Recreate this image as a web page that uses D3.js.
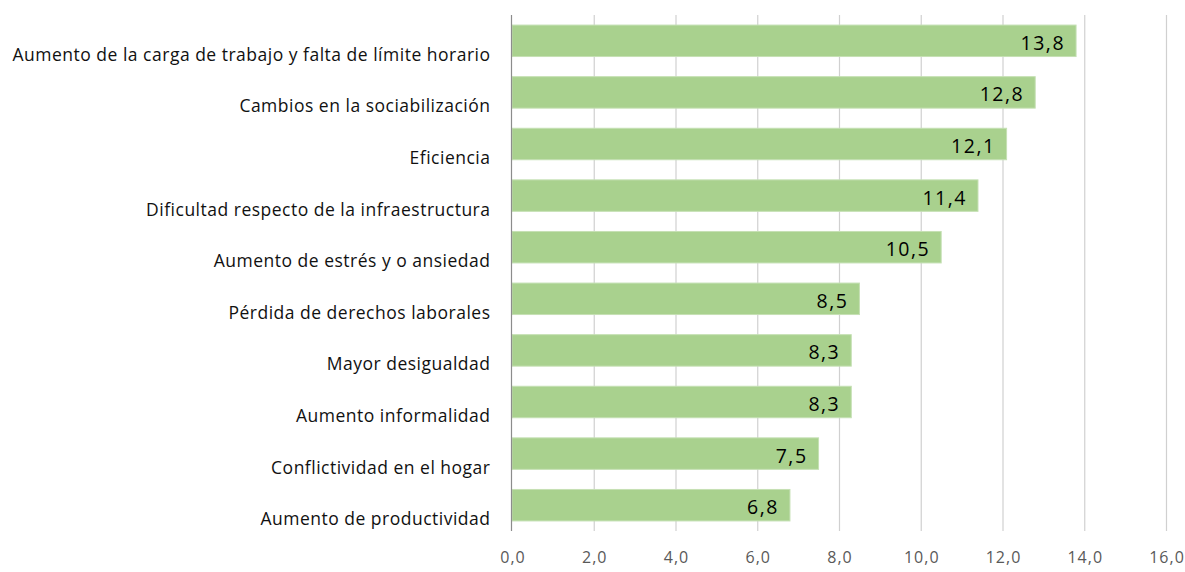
<!DOCTYPE html>
<html>
<head>
<meta charset="utf-8">
<script src="https://cdn.jsdelivr.net/npm/d3@7"></script>
<style>
  body { margin: 0; background: #fff; }
  svg text { font-family: "Open Sans", Lato, sans-serif; }
</style>
</head>
<body>
<div class="chart"></div>
<script>
// Categories (top to bottom) and their values
const categories = [
  "Aumento de la carga de trabajo y falta de límite horario",
  "Cambios en la sociabilización",
  "Eficiencia",
  "Dificultad respecto de la infraestructura",
  "Aumento de estrés y o ansiedad",
  "Pérdida de derechos laborales",
  "Mayor desigualdad",
  "Aumento informalidad",
  "Conflictividad en el hogar",
  "Aumento de productividad"
];
const values = [13.8, 12.8, 12.1, 11.4, 10.5, 8.5, 8.3, 8.3, 7.5, 6.8];
const xTicks = [0, 2, 4, 6, 8, 10, 12, 14, 16];

const width = 1185, height = 572;
const plot = { left: 512, right: 1166, top: 15, bottom: 531 };

const fmt = v => v.toFixed(1).replace(".", ",");

const svg = d3.select(".chart")
  .append("svg")
  .attr("width", width)
  .attr("height", height);

const xScale = d3.scaleLinear().domain([0, 16]).range([plot.left, plot.right]);
const yScale = d3.scaleBand().domain(categories).range([plot.top, plot.bottom])
  .paddingInner(0.39).paddingOuter(0.195);

// vertical gridlines
svg.append("g")
  .selectAll("line")
  .data(xTicks.slice(1))
  .enter()
  .append("line")
  .attr("x1", d => xScale(d) + 0.5)
  .attr("x2", d => xScale(d) + 0.5)
  .attr("y1", plot.top)
  .attr("y2", plot.bottom)
  .attr("stroke", "#d0d0d0")
  .attr("stroke-width", 1.2);

// bars
svg.append("g")
  .selectAll("rect")
  .data(values)
  .enter()
  .append("rect")
  .attr("x", xScale(0))
  .attr("y", (d, i) => yScale(categories[i]))
  .attr("width", d => xScale(d) - xScale(0))
  .attr("height", yScale.bandwidth())
  .attr("fill", "#a9d18e")
  .attr("stroke", "#c5e0b4")
  .attr("stroke-width", 1);

// value labels inside bar ends
svg.append("g")
  .selectAll("text")
  .data(values)
  .enter()
  .append("text")
  .attr("x", d => xScale(d) - 11)
  .attr("y", (d, i) => yScale(categories[i]) + yScale.bandwidth() / 2 + 9)
  .attr("text-anchor", "end")
  .style("font-size", "19.5px")
  .style("letter-spacing", "1.5px")
  .style("fill", "#000")
  .text(d => fmt(d));

// y axis line
svg.append("line")
  .attr("x1", xScale(0) - 0.5)
  .attr("x2", xScale(0) - 0.5)
  .attr("y1", plot.top)
  .attr("y2", plot.bottom)
  .attr("stroke", "#8c8c8c")
  .attr("stroke-width", 1.2);

// category labels
svg.append("g")
  .selectAll("text")
  .data(categories)
  .enter()
  .append("text")
  .attr("x", 490.5)
  .attr("y", d => yScale(d) + yScale.bandwidth() / 2 + 20)
  .attr("text-anchor", "end")
  .style("font-size", "17.5px")
  .style("letter-spacing", "0.5px")
  .style("fill", "#111")
  .text(d => d);

// x tick labels
const xAxis = d3.axisBottom(xScale).tickValues(xTicks).tickFormat(fmt).tickSize(0).tickPadding(0);
const gx = svg.append("g")
  .attr("transform", `translate(0,${plot.bottom})`)
  .call(xAxis);
gx.select(".domain").remove();
gx.selectAll("text")
  .attr("x", 0.5)
  .attr("y", 32)
  .attr("dy", 0)
  .style("font-family", "'Open Sans', Lato, sans-serif")
  .style("font-size", "16px")
  .style("letter-spacing", "1px")
  .style("fill", "#595959");
</script>
</body>
</html>
